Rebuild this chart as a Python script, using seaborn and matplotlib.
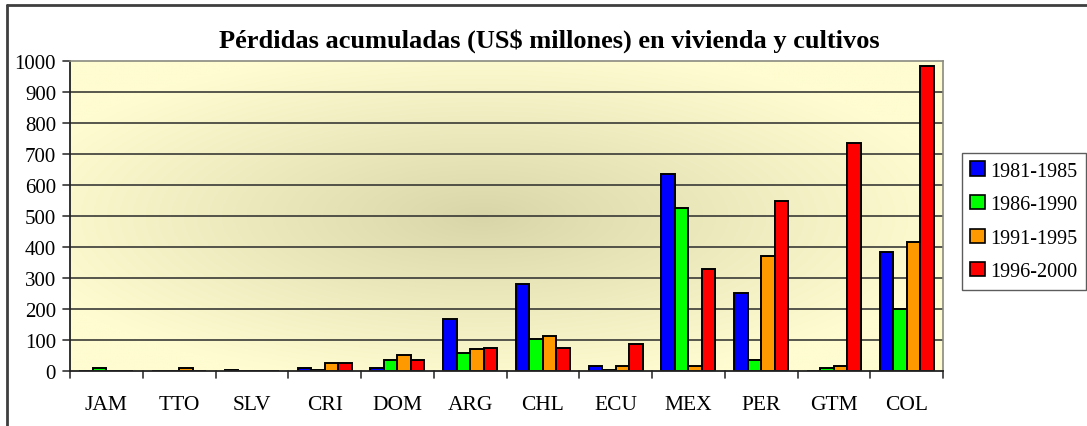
import numpy as np
import pandas as pd
import matplotlib
matplotlib.use("Agg")
import matplotlib.pyplot as plt
from matplotlib.lines import Line2D
from matplotlib.patches import Patch
import seaborn as sns

countries = ["JAM", "TTO", "SLV", "CRI", "DOM", "ARG", "CHL", "ECU", "MEX", "PER", "GTM", "COL"]
periods = ["1981-1985", "1986-1990", "1991-1995", "1996-2000"]
v_1981_1985 = [0, 0, 3, 10, 10, 170, 281, 16, 636, 252, 0, 385]
v_1986_1990 = [10, 0, 0, 3, 37, 60, 103, 5, 527, 36, 10, 202]
v_1991_1995 = [0, 10, 0, 28, 54, 71, 115, 16, 16, 373, 16, 417]
v_1996_2000 = [0, 0, 0, 28, 37, 76, 76, 87, 329, 548, 735, 984]
colors = ["#0000FF", "#00FF00", "#FF9900", "#FF0000"]
title = "Pérdidas acumuladas (US$ millones) en vivienda y cultivos"

rows = []
for p, vals in zip(periods, [v_1981_1985, v_1986_1990, v_1991_1995, v_1996_2000]):
    for c, v in zip(countries, vals):
        rows.append({"País": c, "Periodo": p, "Valor": v})
df = pd.DataFrame(rows)

sns.set_theme(style="white")
plt.rcParams["font.family"] = ["Liberation Serif", "DejaVu Serif"]
plt.rcParams["text.color"] = "black"
plt.rcParams["xtick.color"] = "black"
plt.rcParams["ytick.color"] = "black"
plt.rcParams["axes.labelcolor"] = "black"

fig = plt.figure(figsize=(10.87, 4.27), dpi=100)
W, H = 1087, 427
ax = fig.add_axes([70 / W, 1 - 372.3 / H, (943 - 70) / W, (372.3 - 62.3) / H])

# radial gradient background
ny, nx = 200, 400
yy, xx = np.mgrid[0:ny, 0:nx]
cx, cy = 0.47 * nx, 0.5 * ny
r = np.sqrt(((xx - cx) / (0.5 * nx)) ** 2 + ((yy - cy) / (0.5 * ny)) ** 2) / 1.1
r = np.clip(r, 0, 1)
c_center = np.array([0xD8, 0xD5, 0xA8]) / 255
c_edge = np.array([0xFE, 0xFC, 0xD0]) / 255
t = r[..., None] ** 0.9
img = c_center * (1 - t) + c_edge * t
ax.imshow(img, extent=[-0.5, 11.5, 0, 1000], aspect="auto", zorder=0)

sns.barplot(data=df, x="País", y="Valor", hue="Periodo", palette=colors,
            width=0.74, gap=0, saturation=1, edgecolor="black", linewidth=1.4,
            ax=ax, legend=False, zorder=3)

ax.set_xlim(-0.5, 11.5)
ax.set_ylim(0, 1000)
ax.set_yticks(np.arange(0, 1001, 100))
ax.set_yticklabels([str(v) for v in range(0, 1001, 100)], fontsize=15)
ax.set_xticks(range(len(countries)))
ax.set_xticklabels(countries, fontsize=15.5)
ax.set_xlabel("")
ax.set_ylabel("")
for y in range(100, 1000, 100):
    ax.axhline(y, color="#2a2a2a", lw=1.1, zorder=1)

ax.tick_params(axis="x", length=0, pad=17)
ax.tick_params(axis="y", length=0, pad=10)
# group boundary ticks
for xb in np.arange(-0.5, 11.6, 1.0):
    ax.plot([xb, xb], [0, -22], color="#333333", lw=1.2, clip_on=False, zorder=4)
for y in range(0, 1001, 100):
    ax.plot([-0.5, -0.5 - 0.1], [y, y], color="#333333", lw=1.2, clip_on=False, zorder=4)

for s in ["top", "right"]:
    ax.spines[s].set_color("#8a8a80")
    ax.spines[s].set_linewidth(1.2)
for s in ["left", "bottom"]:
    ax.spines[s].set_color("#222222")
    ax.spines[s].set_linewidth(1.3)
for s in ax.spines.values():
    s.set_zorder(5)

fig.text(549 / W, 1 - 41 / H, title, ha="center", va="center",
         fontsize=19, fontweight="bold")

handles = [Patch(facecolor=c, edgecolor="black", linewidth=1.2) for c in colors]
leg = fig.legend(handles, periods, loc="upper left",
                 bbox_to_anchor=(962 / W, 1 - 154 / H),
                 frameon=True, fontsize=14.5, handlelength=0.7, handleheight=0.7,
                 handletextpad=0.3, labelspacing=0.72, borderpad=0.42,
                 fancybox=False, borderaxespad=0)
leg.get_frame().set_edgecolor("#333333")
leg.get_frame().set_linewidth(1.0)

# outer border (top and left only visible)
fig.add_artist(Line2D([7 / W, 1], [1 - 6 / H, 1 - 6 / H], color="#3f3f3f", lw=2.0))
fig.add_artist(Line2D([7 / W, 7 / W], [0, 1 - 6 / H], color="#3f3f3f", lw=2.0))

fig.savefig("out.png", dpi=100)
